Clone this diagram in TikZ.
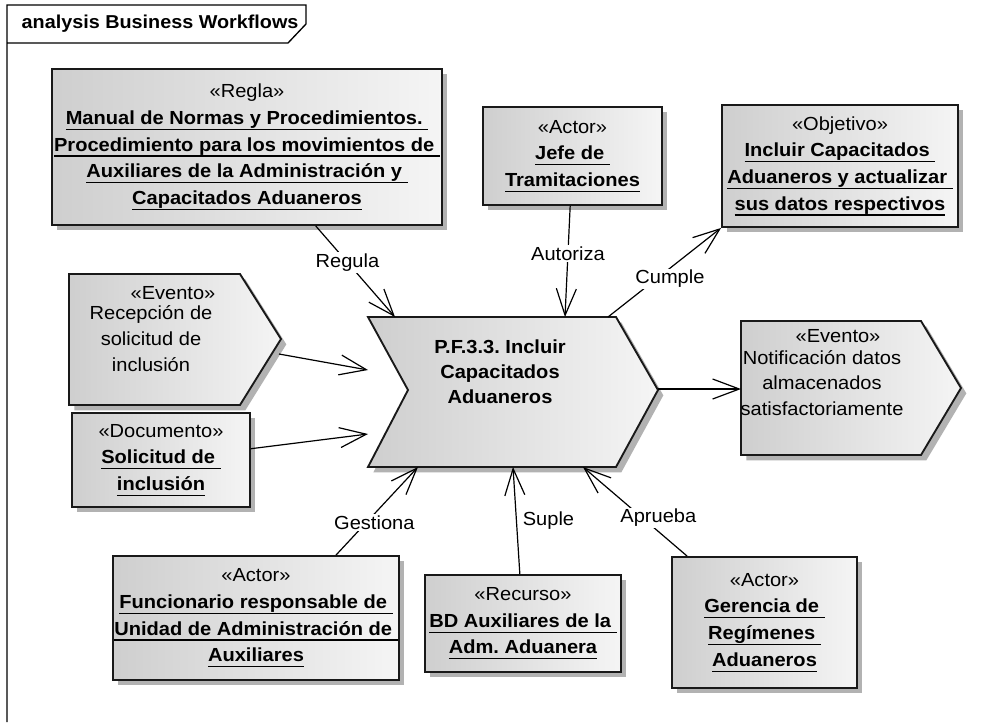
\documentclass[tikz,border=0pt]{standalone}
\usepackage{fontspec}
\setmainfont{Liberation Sans}[FakeStretch=1.06]
\usetikzlibrary{arrows.meta,shadows}

\newcommand{\stereo}[1]{\makebox[0pt]{«#1»}}
\newcommand{\nmline}[1]{\makebox[0pt]{\bfseries\setbox0\hbox{#1}\rlap{\rule[-4.2pt]{\wd0}{0.9pt}}\box0}}

\begin{document}
\frenchspacing
\begin{tikzpicture}[x=0.75pt, y=-0.75pt, font=\fontsize{14.2}{20}\selectfont,
  elem/.style={draw=black!90, line width=1.4pt, left color=black!19, middle color=black!7, right color=black!4,
    drop shadow={shadow xshift=4pt, shadow yshift=-4pt, fill=black!30, opacity=1}},
  box/.style={elem, rectangle, inner sep=0pt, align=center},
  link/.style={line width=0.9pt, -{Straight Barb[length=20pt, width=15pt, line width=0.9pt]}},
  lbl/.style={fill=white, inner sep=1pt}]
  \useasboundingbox (0,0) rectangle (996,722);
  \fill[white] (0,0) rectangle (996,722);

  % frame
  \node[anchor=west, font=\fontsize{14}{20}\selectfont\bfseries] (title) at (17,24) {analysis Business Workflows};
  \draw[line width=1pt] (7,722) -- (7,5) -- (306,5) -- (306,24) -- (288,43) -- (7,43);

  \node[box, minimum width=292.5pt, minimum height=117pt] (regla) at (247,147)
    {\stereo{Regla}\\ \nmline{Manual de Normas y Procedimientos.\ }\\
     \nmline{Procedimiento para los movimientos de\ }\\
     \nmline{Auxiliares de la Administración y\ }\\ \nmline{Capacitados Aduaneros}};
  \node[box, minimum width=134.25pt, minimum height=73.5pt] (jefe) at (572.5,156)
    {\stereo{Actor}\\ \nmline{Jefe de\ }\\ \nmline{Tramitaciones}};
  \node[box, minimum width=177pt, minimum height=91.5pt] (objetivo) at (840,166)
    {\stereo{Objetivo}\\ \nmline{Incluir Capacitados\ }\\
     \nmline{Aduaneros y actualizar\ }\\ \nmline{sus datos respectivos}};
  \node[box, minimum width=133.5pt, minimum height=70.5pt] (doc) at (161,460)
    {\stereo{Documento}\\ \nmline{Solicitud de\ }\\ \nmline{inclusión}};
  \node[box, minimum width=214.5pt, minimum height=93pt] (func) at (256,618)
    {\stereo{Actor}\\ \nmline{Funcionario responsable de\ }\\
     \nmline{Unidad de Administración de\ }\\ \nmline{Auxiliares}};
  \node[box, minimum width=147pt, minimum height=72.75pt] (rec) at (523,623.5)
    {\stereo{Recurso}\\ \nmline{BD Auxiliares de la\ }\\ \nmline{Adm. Aduanera}};
  \node[box, minimum width=138.75pt, minimum height=98.25pt] (ger) at (764.5,622.5)
    {\stereo{Actor}\\ \nmline{Gerencia de\ }\\ \nmline{Regímenes\ }\\ \nmline{Aduaneros}};

  % events and process
  \draw[elem] (69,274) -- (240,274) -- (281,339) -- (240,405) -- (69,405) -- cycle;
  \node (ev1s) at (173,293) {«Evento»};
  \node[align=center, font=\fontsize{14.2}{19.5}\selectfont] (ev1t) at (151,339)
    {Recepción de\\solicitud de\\inclusión};
  \draw[elem] (741,321) -- (921,321) -- (961,388) -- (921,455) -- (741,455) -- cycle;
  \node (ev2s) at (838,336) {«Evento»};
  \node[align=center, font=\fontsize{14.2}{19}\selectfont] (ev2t) at (822,383)
    {Notificación datos\\almacenados\\satisfactoriamente};
  \draw[elem] (368,317) -- (616,317) -- (658,390) -- (616,467) -- (368,467) -- (408,390) -- cycle;
  \node[align=center, font=\fontsize{14.2}{18.75}\selectfont\bfseries] (proc) at (500,372)
    {P.F.3.3. Incluir\\Capacitados\\Aduaneros};

  \coordinate (aReg) at (395,317);
  \coordinate (aAut) at (565,317);
  \coordinate (aCum) at (608,317);
  \coordinate (ev1out) at (279,354);
  \coordinate (aEv) at (368,370);
  \coordinate (aDoc) at (368,434);
  \coordinate (ptip) at (658,389);
  \coordinate (e2w) at (741,389);
  \coordinate (aGes) at (418,467);
  \coordinate (aSup) at (513,467);
  \coordinate (aApr) at (583,467);

  \draw[link] (regla) -- (aReg) node[lbl, pos=0.4] {Regula};
  \draw[link] (jefe) -- (aAut) node[lbl, pos=0.43] {Autoriza};
  \draw[link] (aCum) -- (objetivo.south west) node[lbl, pos=0.43, xshift=10pt] {Cumple};
  \draw[link] (ev1out) -- (aEv);
  \draw[link] (doc) -- (aDoc);
  \draw[link] (ptip) -- (e2w);
  \draw[link] ([xshift=60pt]func.north) -- (aGes) node[lbl, pos=0.37, xshift=6pt] {Gestiona};
  \draw[link] (rec) -- (aSup) node[pos=0.5, anchor=west, xshift=1pt] {Suple};
  \draw[link] (ger) -- (aApr) node[lbl, pos=0.43, xshift=12pt] {Aprueba};
\end{tikzpicture}
\end{document}
